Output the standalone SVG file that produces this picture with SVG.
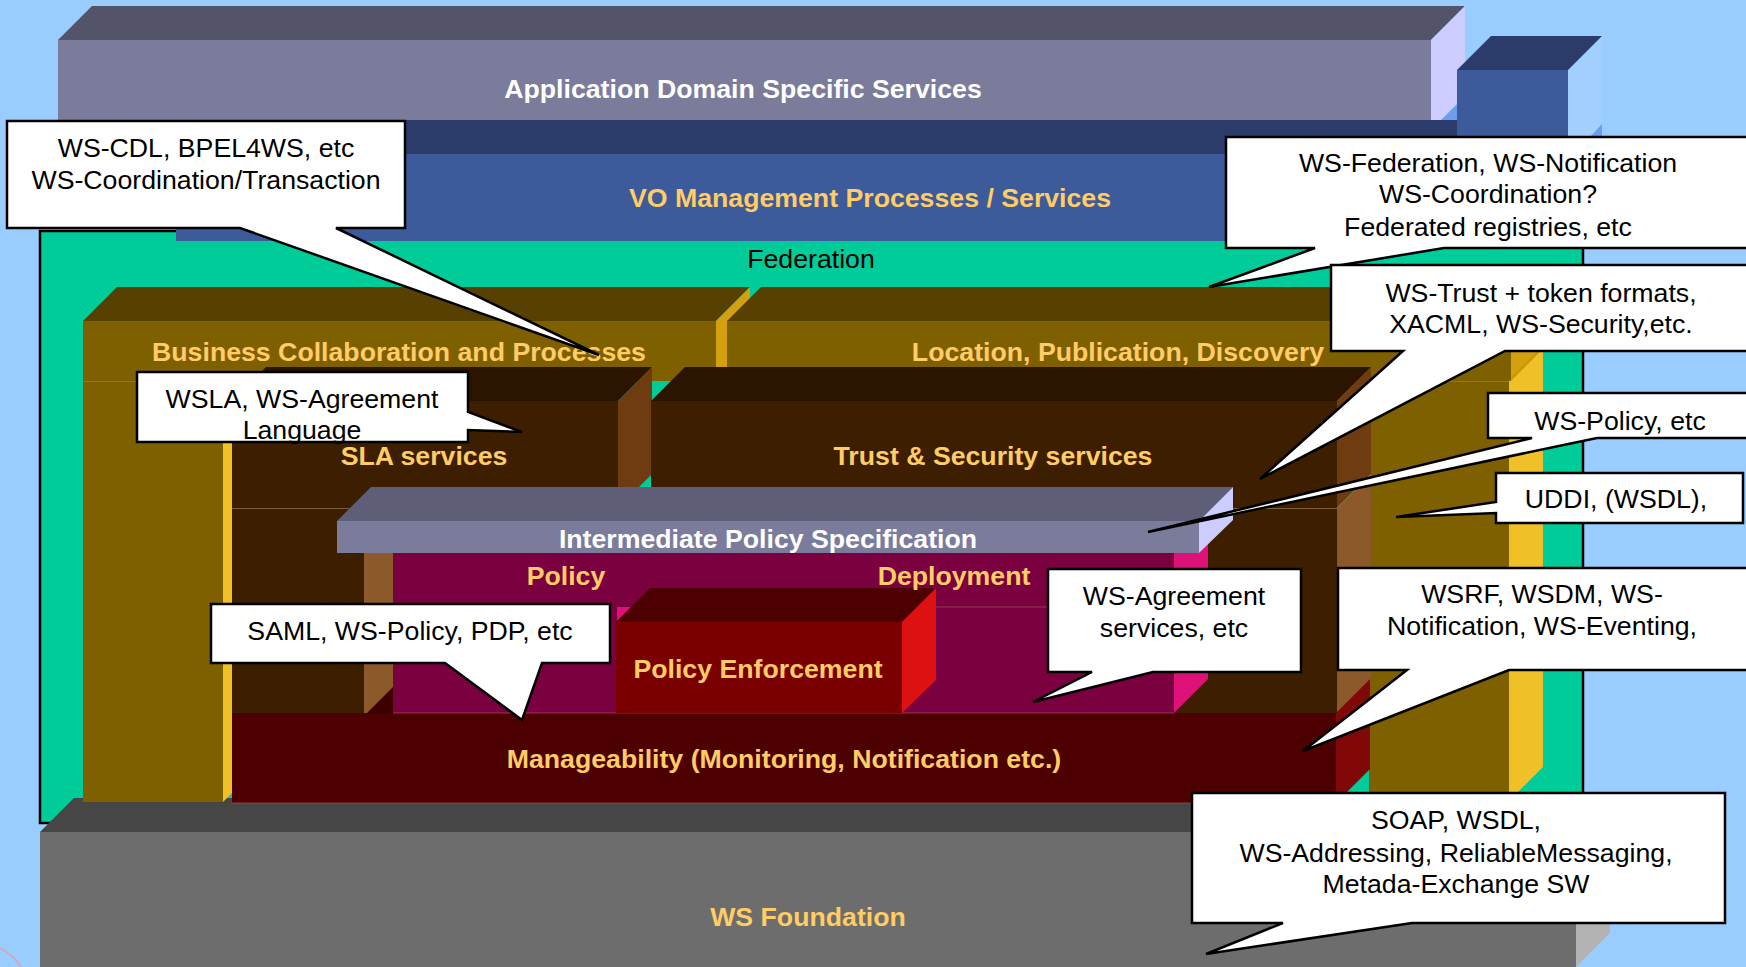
<svg xmlns="http://www.w3.org/2000/svg" width="1746" height="967" viewBox="0 0 1746 967">
<style>
.lbl{font-family:"Liberation Sans",Arial,sans-serif;font-weight:bold;font-size:26.7px;fill:#FFCC66;text-anchor:middle}
.wht{fill:#FFFFFF}
.txt{font-family:"Liberation Sans",Arial,sans-serif;font-size:26.7px;fill:#000000;text-anchor:middle}
.co{fill:#FFFFFF;stroke:#000000;stroke-width:2.5;stroke-linejoin:miter}
.edge{stroke:#9A7A55;stroke-width:1;stroke-opacity:0.7;fill:none}
.edger{stroke:#A05060;stroke-width:1;stroke-opacity:0.7;fill:none}
</style>
<rect x="0" y="0" width="1746" height="967" fill="#99CCFF"/>
<path d="M0,948 Q13,955 21,967" fill="none" stroke="#E0A0A8" stroke-width="1.5"/>

<g id="federation">
<rect x="40" y="231" width="1543" height="592" fill="#00CC99" stroke="#000000" stroke-width="2.5"/>
</g>

<g id="app-domain">
<polygon points="1431,120 1465,86 1465,120" fill="#6D9EEB"/>
<polygon points="58,40 92,6 1465,6 1431,40" fill="#535369"/>
<rect x="58" y="40" width="1373" height="80" fill="#7B7B9B"/>
<polygon points="1431,40 1465,6 1465,96 1441,120 1431,120" fill="#CCCCFF"/>
</g>

<g id="vo-management">
<polygon points="176,154 210,120 1460,120 1460,154" fill="#2B3C6A"/>
<rect x="176" y="154" width="1392" height="87" fill="#3D5A9A"/>
<polygon points="1568,70 1602,36 1602,207 1568,241" fill="#A3CFFF"/>
<polygon points="1602,124 1602,137 1590,137" fill="#6D9EEB"/>
<polygon points="1457,70 1491,36 1602,36 1568,70" fill="#2B3C6A"/>
<rect x="1457" y="70" width="111" height="84" fill="#3D5A9A"/>
</g>

<g id="ws-foundation">
<polygon points="40,832 74,798 1610,798 1576,832" fill="#464646"/>
<rect x="40" y="832" width="1536" height="135" fill="#6D6D6D"/>
<polygon points="1576,832 1610,798 1610,933 1576,967" fill="#B3B3B3"/>
</g>

<g id="business-collaboration">
<polygon points="223,381 257,347 257,768 223,802" fill="#F0C028"/>
<rect x="83" y="381" width="140" height="421" fill="#7F6000"/>
<polygon points="83,321 117,287 750,287 716,321" fill="#574000"/>
<rect x="83" y="321" width="633" height="60" fill="#7F6000"/>
<polygon points="716,321 750,287 750,347 716,381" fill="#D4A010"/>
<line x1="83" y1="381.5" x2="223" y2="381.5" class="edge"/>
</g>

<g id="location-publication">
<polygon points="1509,381 1543,347 1543,767 1509,801" fill="#F0C028"/>
<rect x="1369" y="381" width="140" height="420" fill="#7F6000"/>
<polygon points="727,321 761,287 1545,287 1511,321" fill="#574000"/>
<rect x="727" y="321" width="784" height="60" fill="#7F6000"/>
<polygon points="1511,321 1545,287 1545,347 1511,381" fill="#D4A010"/>
<line x1="1369" y1="381.5" x2="1509" y2="381.5" class="edge"/>
<line x1="1509" y1="381" x2="1543" y2="347" class="edge"/>
</g>

<g id="manageability-top">
<polygon points="232,713 266,679 1370,679 1336,713" fill="#3D0000"/>
</g>

<g id="sla-services">
<polygon points="232,401 266,367 652,367 618,401" fill="#2B1500"/>
<rect x="232" y="401" width="386" height="107" fill="#3D1F00"/>
<polygon points="618,401 652,367 652,474 618,508" fill="#6E3C10"/>
<polygon points="364,521 398,487 398,682 364,716" fill="#8C5A2A"/>
<rect x="232" y="508" width="132" height="208" fill="#3D1F00"/>
<line x1="232" y1="508.5" x2="364" y2="508.5" class="edge"/>
</g>

<g id="trust-security">
<polygon points="651,401 685,367 1371,367 1337,401" fill="#2B1500"/>
<rect x="651" y="401" width="686" height="107" fill="#3D1F00"/>
<polygon points="1337,401 1371,367 1371,474 1337,508" fill="#6E3C10"/>
<polygon points="1337,508 1371,474 1371,684 1337,718" fill="#8C5A2A"/>
<rect x="1150" y="508" width="187" height="210" fill="#3D1F00"/>
<line x1="1150" y1="508.5" x2="1337" y2="508.5" class="edge"/>
<line x1="1337" y1="508" x2="1371" y2="474" class="edge"/>
<line x1="1150" y1="718" x2="1337" y2="718" class="edge"/>
</g>

<g id="manageability">
<rect x="232" y="713" width="1104" height="90" fill="#4D0000"/>
<polygon points="1336,713 1370,679 1370,769 1336,803" fill="#800808"/>
<line x1="232" y1="803" x2="1336" y2="803" class="edger"/>
</g>

<g id="policy-deployment">
<rect x="393" y="553" width="781" height="160" fill="#7A003F"/>
<polygon points="1174,553 1208,519 1208,679 1174,713" fill="#DD1177"/>
<polygon points="617,607 631,607 617,621" fill="#DD1177"/>
<line x1="936" y1="607" x2="1174" y2="607" class="edger"/>
<line x1="393" y1="713" x2="1174" y2="713" class="edger"/>
</g>

<g id="policy-enforcement">
<polygon points="616,622 650,588 936,588 902,622" fill="#4D0000"/>
<rect x="616" y="622" width="286" height="91" fill="#7A0000"/>
<polygon points="902,622 936,588 936,680 902,713" fill="#DD1111"/>
</g>

<g id="intermediate-policy">
<polygon points="337,521 371,487 1233,487 1199,521" fill="#5E5E78"/>
<rect x="337" y="521" width="862" height="32" fill="#7B7B9B"/>
<polygon points="1199,521 1233,487 1233,520 1199,553" fill="#CCCCFF"/>
</g>

<g id="labels">
<text x="743" y="98" class="lbl wht">Application Domain Specific Services</text>
<text x="870" y="207" class="lbl">VO Management Processes / Services</text>
<text x="811" y="268" class="txt">Federation</text>
<text x="399" y="361" class="lbl">Business Collaboration and Processes</text>
<text x="1118" y="361" class="lbl">Location, Publication, Discovery</text>
<text x="424" y="465" class="lbl">SLA services</text>
<text x="993" y="465" class="lbl">Trust &amp; Security services</text>
<text x="768" y="548" class="lbl wht">Intermediate Policy Specification</text>
<text x="566" y="585" class="lbl">Policy</text>
<text x="954" y="585" class="lbl">Deployment</text>
<text x="758" y="678" class="lbl">Policy Enforcement</text>
<text x="784" y="768" class="lbl">Manageability (Monitoring, Notification etc.)</text>
<text x="808" y="926" class="lbl">WS Foundation</text>
</g>

<g id="callouts">
<g id="c-wscdl">
<path class="co" d="M7,121 H405 V228 H336 L599,355 L240,228 H7 Z"/>
<text x="206" y="157" class="txt">WS-CDL, BPEL4WS, etc</text>
<text x="206" y="189" class="txt">WS-Coordination/Transaction</text>
</g>
<g id="c-wsla">
<path class="co" d="M137,372 H468 V412 L522,432 L468,430 V442 H137 Z"/>
<text x="302" y="408" class="txt">WSLA, WS-Agreement</text>
<text x="302" y="439" class="txt">Language</text>
</g>
<g id="c-wsfed">
<path class="co" d="M1226,137 H1760 V248 H1444 L1209,287 L1315,248 H1226 Z"/>
<text x="1488" y="172" class="txt">WS-Federation, WS-Notification</text>
<text x="1488" y="203" class="txt">WS-Coordination?</text>
<text x="1488" y="236" class="txt">Federated registries, etc</text>
</g>
<g id="c-wstrust">
<path class="co" d="M1331,265 H1760 V351 H1505 L1260,479 L1403,351 H1331 Z"/>
<text x="1541" y="302" class="txt">WS-Trust + token formats,</text>
<text x="1541" y="333" class="txt">XACML, WS-Security,etc.</text>
</g>
<g id="c-wspolicy">
<path class="co" d="M1488,393 H1760 V438 H1597 L1148,532 L1532,438 H1488 Z"/>
<text x="1620" y="430" class="txt">WS-Policy, etc</text>
</g>
<g id="c-uddi">
<path class="co" d="M1496,473 H1743 V523 H1496 V513 L1396,517 L1496,502 Z"/>
<text x="1616" y="508" class="txt">UDDI, (WSDL),</text>
</g>
<g id="c-wsagree">
<path class="co" d="M1048,569 H1301 V672 H1153 L1033,702 L1092,672 H1048 Z"/>
<text x="1174" y="605" class="txt">WS-Agreement</text>
<text x="1174" y="637" class="txt">services, etc</text>
</g>
<g id="c-wsrf">
<path class="co" d="M1338,568 H1760 V670 H1509 L1303,751 L1407,670 H1338 Z"/>
<text x="1542" y="603" class="txt">WSRF, WSDM, WS-</text>
<text x="1542" y="635" class="txt">Notification, WS-Eventing,</text>
</g>
<g id="c-saml">
<path class="co" d="M211,604 H610 V663 H542 L522,720 L445,663 H211 Z"/>
<text x="410" y="640" class="txt">SAML, WS-Policy, PDP, etc</text>
</g>
<g id="c-soap">
<path class="co" d="M1192,793 H1725 V923 H1412 L1206,954 L1283,923 H1192 Z"/>
<text x="1456" y="829" class="txt">SOAP, WSDL,</text>
<text x="1456" y="862" class="txt">WS-Addressing, ReliableMessaging,</text>
<text x="1456" y="893" class="txt">Metada-Exchange SW</text>
</g>
</g>
</svg>
